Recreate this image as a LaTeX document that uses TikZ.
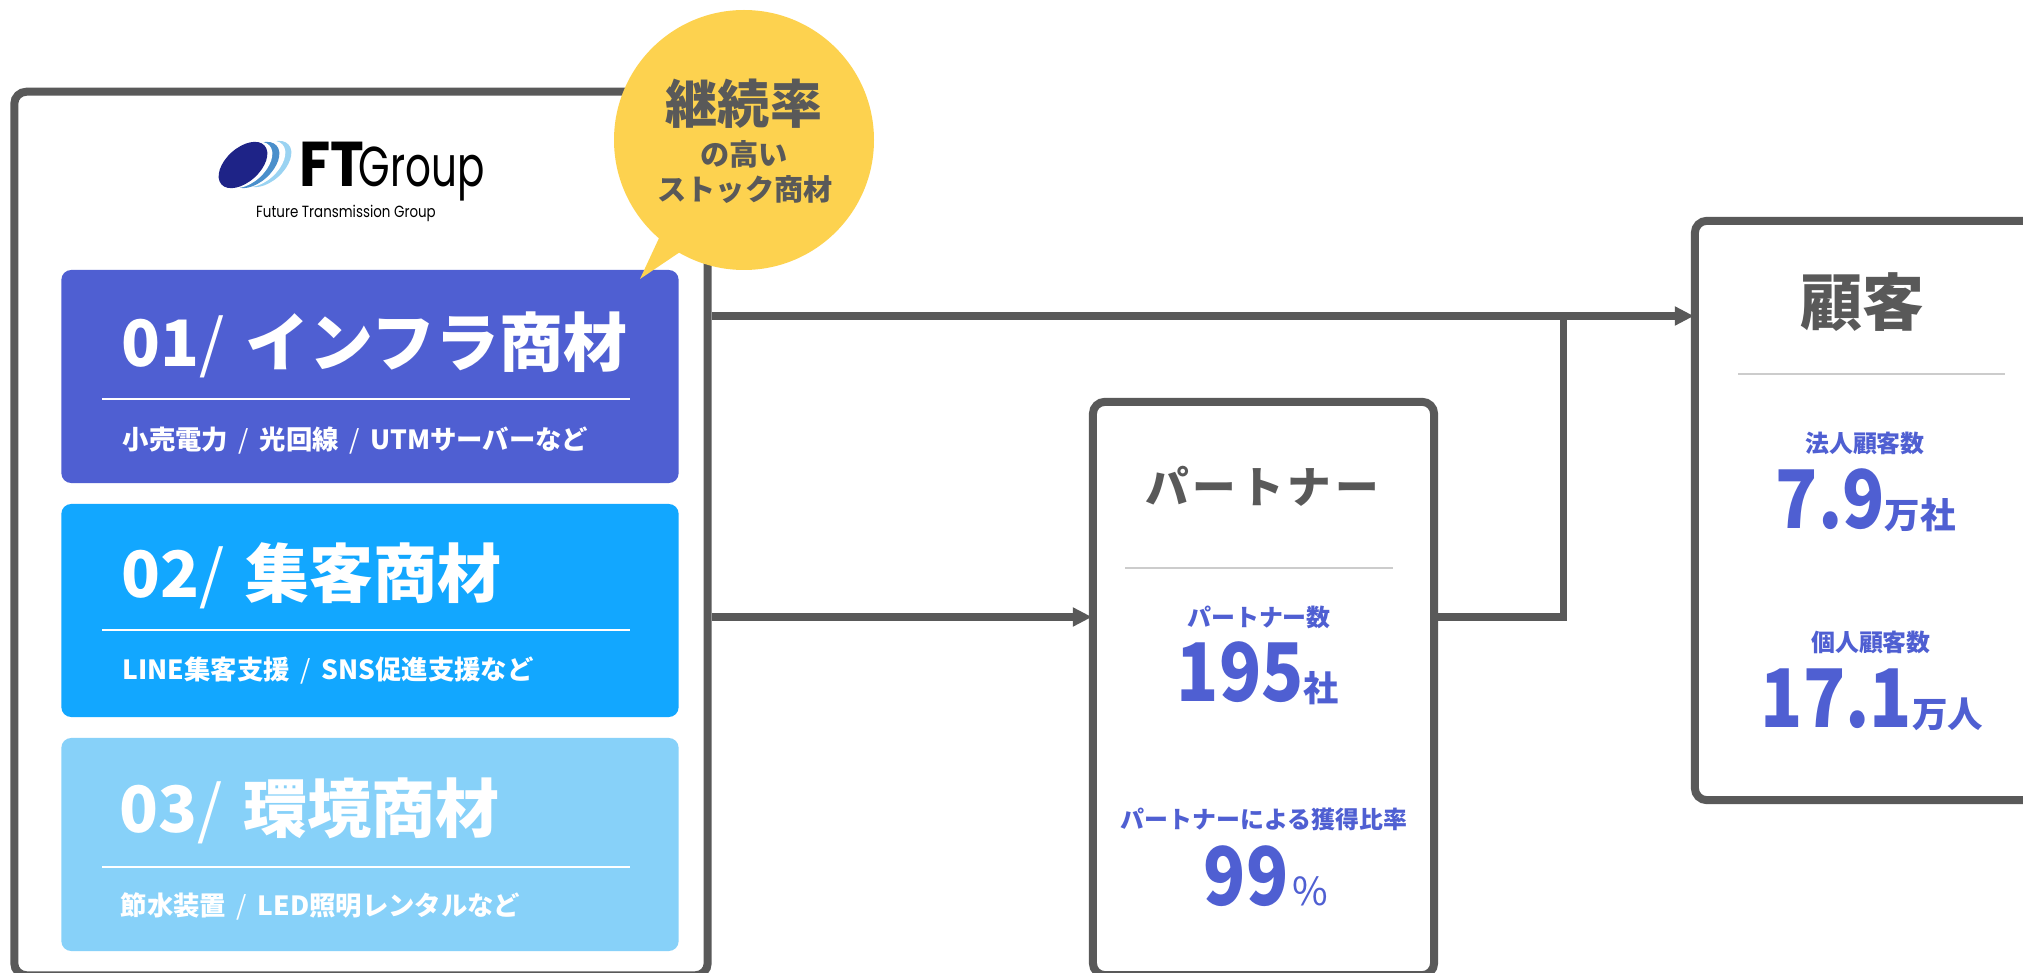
\documentclass[tikz,border=0pt]{standalone}
\usepackage{fontspec}
\setmainfont{Noto Sans CJK JP}
\newfontfamily\widefont[LetterSpace=9]{Noto Sans CJK JP}
\newfontfamily\numfont[FakeStretch=0.86]{Noto Sans CJK JP}
\newfontfamily\logofont[FakeStretch=0.72]{Poppins}
\newfontfamily\logoftfont[FakeStretch=0.9]{Poppins}
\newfontfamily\logosubfont[FakeStretch=0.83]{Poppins}
\usepackage{tikz}
\usetikzlibrary{positioning, calc, arrows.meta}

\definecolor{linegray}{HTML}{595959}
\definecolor{rulegray}{HTML}{CCCCCC}
\definecolor{infracolor}{HTML}{4F5FD2}
\definecolor{shukyakucolor}{HTML}{12A7FF}
\definecolor{kankyocolor}{HTML}{87D1F9}
\definecolor{bubblecolor}{HTML}{FDD24F}
\definecolor{logoblue}{HTML}{1E2387}
\definecolor{logomid}{HTML}{4A8FCB}
\definecolor{logolight}{HTML}{9AD3F2}

\newcommand{\fsize}[1]{\fontsize{#1}{#1}\selectfont}
\newcommand{\slashsep}{\hspace{0.4em}{\mdseries /}\hspace{0.4em}}
\newcommand{\statunit}[1]{\rmfamily\fsize{#1}}

\tikzset{
    panel/.style={draw=linegray, line width=0.08cm, rounded corners=0.12cm, fill=white, inner sep=0pt},
    card/.style={rounded corners=0.1cm, minimum width=6.17cm, minimum height=2.13cm, inner sep=0pt},
    cardtitle/.style={anchor=west, inner sep=0pt, text=white, font=\bfseries\fsize{18.2}},
    cardsub/.style={anchor=west, inner sep=0pt, text=white, font=\bfseries\fsize{7.5}},
    cardrule/.style={draw=white, line width=0.015cm},
    headline/.style={inner sep=0pt, text=linegray, font=\bfseries\fsize{17.6}},
    statlabel/.style={inner sep=0pt, text=infracolor, font=\bfseries\fsize{6.8}},
    statvalue/.style={anchor=base west, inner sep=0pt, text=infracolor, font=\numfont\bfseries\fsize{23}},
    link/.style={draw=linegray, line width=0.07cm},
    linkarrow/.style={link, -{Triangle[length=0.19cm, width=0.18cm]}, shorten >=-0.03cm}
}

\begin{document}
\begin{tikzpicture}[x=0.01cm, y=-0.01cm]
    \useasboundingbox (0,0) rectangle (2023,973);

    % Main boxes, the lower and right edges run off the page
    \node[panel, minimum width=6.93cm, minimum height=8.83cm] (products) at (361,533.5) {};
    \node[panel, minimum width=3.41cm, minimum height=5.73cm] (partner) at (1263.5,688.5) {};
    \node[panel, minimum width=4.4cm, minimum height=5.79cm] (customer) at (1915,510.5) {};

    % Connectors
    \coordinate (customerin) at (customer.west |- 0,316);
    \coordinate (partnerin) at (partner.west |- 0,617);
    \coordinate (junction) at (1563,316);
    \draw[linkarrow] (products.east |- customerin) -- (customerin);
    \draw[linkarrow] (products.east |- partnerin) -- (partnerin);
    \draw[link] (partner.east |- partnerin) -| (junction);

    % Product cards
    \node[card, fill=infracolor] (infra) at (370,376.5) {};
    \node[card, fill=shukyakucolor] (shukyaku) at (370,610.5) {};
    \node[card, fill=kankyocolor] (kankyo) at (370,844.5) {};

    \node[cardtitle] (infratitle) at (121,345) {01{\mdseries /}\hspace{0.1em} インフラ商材};
    \draw[cardrule] (102,399) -- (630,399);
    \node[cardsub] (infrasub) at (122,441) {小売電力\slashsep 光回線\slashsep UTMサーバーなど};

    \node[cardtitle] (shukyakutitle) at (121,576) {02{\mdseries /}\hspace{0.1em} 集客商材};
    \draw[cardrule] (102,630) -- (630,630);
    \node[cardsub] (shukyakusub) at (122,671) {LINE集客支援\slashsep SNS促進支援など};

    \node[cardtitle] (kankyotitle) at (119,811) {03{\mdseries /}\hspace{0.1em} 環境商材};
    \draw[cardrule] (102,867) -- (630,867);
    \node[cardsub] (kankyosub) at (120,906) {節水装置\slashsep LED照明レンタルなど};

    % Speech bubble
    \fill[bubblecolor] (744,140) circle (130);
    \fill[bubblecolor] (660,236) -- (640,279) -- (680,252) -- cycle;
    \node[inner sep=0pt, text=linegray, font=\bfseries\fsize{14.8}] (bubbletop) at (744,104) {継続率};
    \node[inner sep=0pt, text=linegray, font=\bfseries\fsize{8.3}] (bubblemid) at (744,154) {の高い};
    \node[inner sep=0pt, text=linegray, font=\bfseries\fsize{8.3}] (bubblelow) at (745,190) {ストック商材};

    % Logo
    \fill[logolight, rotate around={42:(267,164)}] (267,164) ellipse (29 and 17);
    \fill[white, rotate around={42:(261,164)}] (261,164) ellipse (29 and 17);
    \fill[logomid, rotate around={42:(255,165)}] (255,165) ellipse (29 and 17);
    \fill[white, rotate around={42:(248,165)}] (248,165) ellipse (29 and 17);
    \fill[logoblue, rotate around={42:(243,165)}] (243,165) ellipse (29 and 17);
    \node[anchor=base west, inner sep=0pt, font=\logoftfont\bfseries\fsize{18}] (logoft) at (299,187) {FT};
    \node[anchor=base west, inner sep=0pt, font=\logofont\fsize{16}] (logogroup) at (358,187) {Group};
    \node[inner sep=0pt, font=\logosubfont\fsize{4.6}] (logosub) at (346,213) {Future Transmission Group};

    % Partner box
    \node[headline, font=\widefont\bfseries\fsize{12.4}] (partnertitle) at (1262,486) {パートナー};
    \draw[draw=rulegray, line width=0.015cm] (1125,568) -- (1393,568);
    \node[statlabel] (partnercount) at (1259,617) {パートナー数};
    \node[statvalue] (partnervalue) at (1176,701) {195\statunit{10}社};
    \node[statlabel] (partnershare) at (1264,819) {パートナーによる獲得比率};
    \node[statvalue] (sharevalue) at (1203,905) {99\mdseries\statunit{11}\hspace{0.1em}\%};

    % Customer box
    \node[headline] (customertitle) at (1862,302) {顧客};
    \draw[draw=rulegray, line width=0.015cm] (1738,374) -- (2005,374);
    \node[statlabel] (corplabel) at (1865,443) {法人顧客数};
    \node[statvalue] (corpvalue) at (1775,528) {7.9\statunit{10.1}万社};
    \node[statlabel] (personlabel) at (1871,642) {個人顧客数};
    \node[statvalue] (personvalue) at (1760,727) {17.1\statunit{10.1}万人};
\end{tikzpicture}
\end{document}
